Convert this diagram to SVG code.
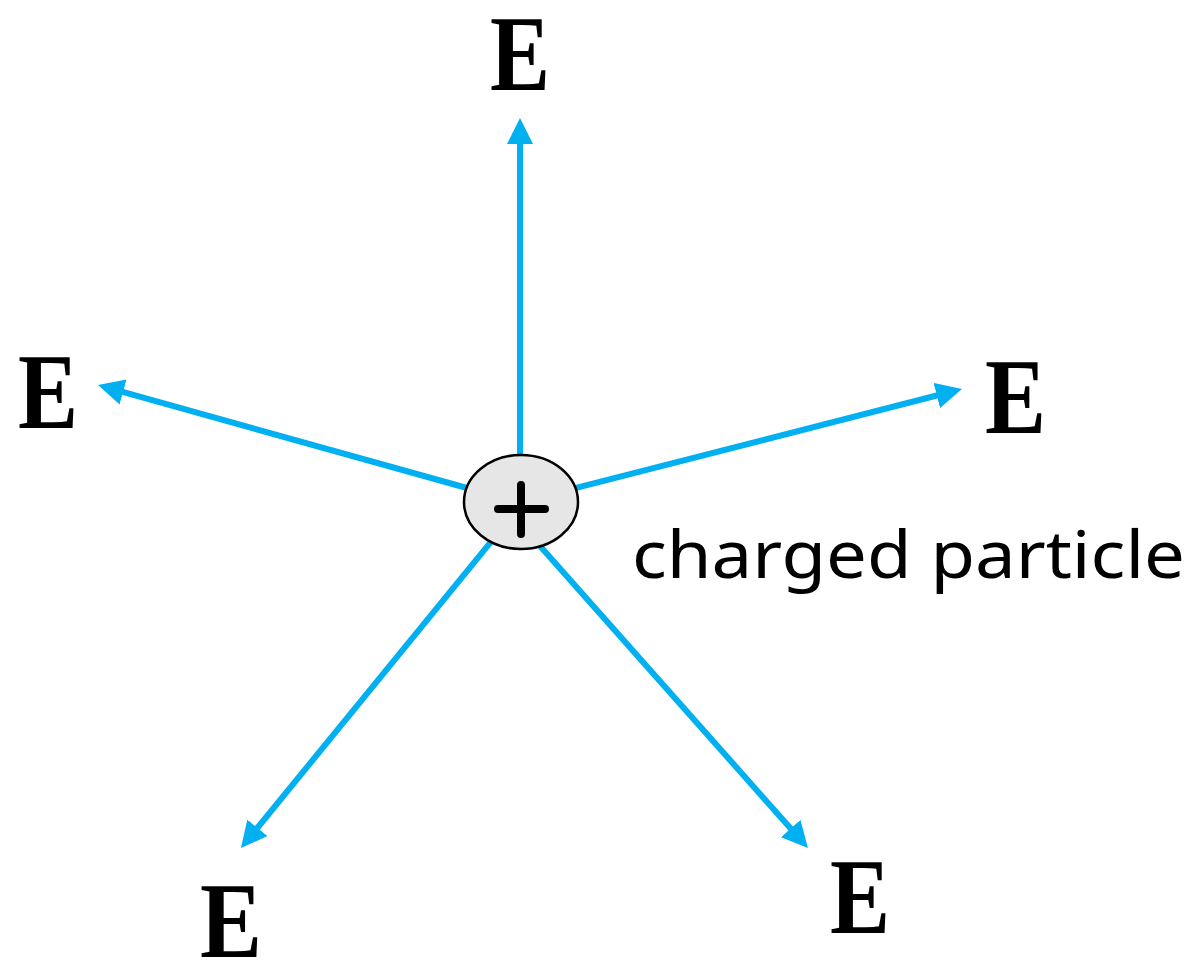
<svg xmlns="http://www.w3.org/2000/svg" width="1196" height="966" viewBox="0 0 1196 966">
<style>
.fl{stroke:#00B0F0;stroke-width:6;fill:none;marker-end:url(#ah)}
.E{font-family:"Liberation Serif","DejaVu Serif",serif;font-weight:bold;font-size:108px;fill:#000}
.lbl{font-family:"Noto Sans","Open Sans",sans-serif;font-size:66px;fill:#000}
</style>
<defs>
<marker id="ah" markerUnits="userSpaceOnUse" markerWidth="26" markerHeight="26" refX="6" refY="13" orient="auto">
<path d="M0,0 L26,13 L0,26 z" fill="#00B0F0"/>
</marker>
</defs>
<rect width="1196" height="966" fill="#fff"/>
<g id="connectors">
<line class="fl" x1="520" y1="470" x2="520" y2="138"/>
<line class="fl" x1="481.4" y1="492" x2="117.3" y2="390.4"/>
<line class="fl" x1="561.5" y1="491.7" x2="942.6" y2="394"/>
<line class="fl" x1="499.5" y1="531.4" x2="253.6" y2="832.5"/>
<line class="fl" x1="530" y1="534.8" x2="794.7" y2="833"/>
</g>
<g id="particle">
<ellipse cx="521" cy="502" rx="57" ry="47" fill="#E6E6E6" stroke="#000" stroke-width="2.5"/>
<path d="M498,509 H545 M521,485 V534" stroke="#000" stroke-width="8" stroke-linecap="round"/>
</g>
<g id="label">
<text class="lbl" x="632" y="578" textLength="553" lengthAdjust="spacingAndGlyphs">charged particle</text>
</g>
<g id="E-top"><text class="E" x="490" y="90" textLength="60" lengthAdjust="spacingAndGlyphs">E</text></g>
<g id="E-left"><text class="E" x="18" y="428" textLength="60" lengthAdjust="spacingAndGlyphs">E</text></g>
<g id="E-right"><text class="E" x="985" y="433" textLength="61" lengthAdjust="spacingAndGlyphs">E</text></g>
<g id="E-lowerleft"><text class="E" x="200" y="957" textLength="62" lengthAdjust="spacingAndGlyphs">E</text></g>
<g id="E-lowerright"><text class="E" x="830" y="933" textLength="60" lengthAdjust="spacingAndGlyphs">E</text></g>
</svg>
